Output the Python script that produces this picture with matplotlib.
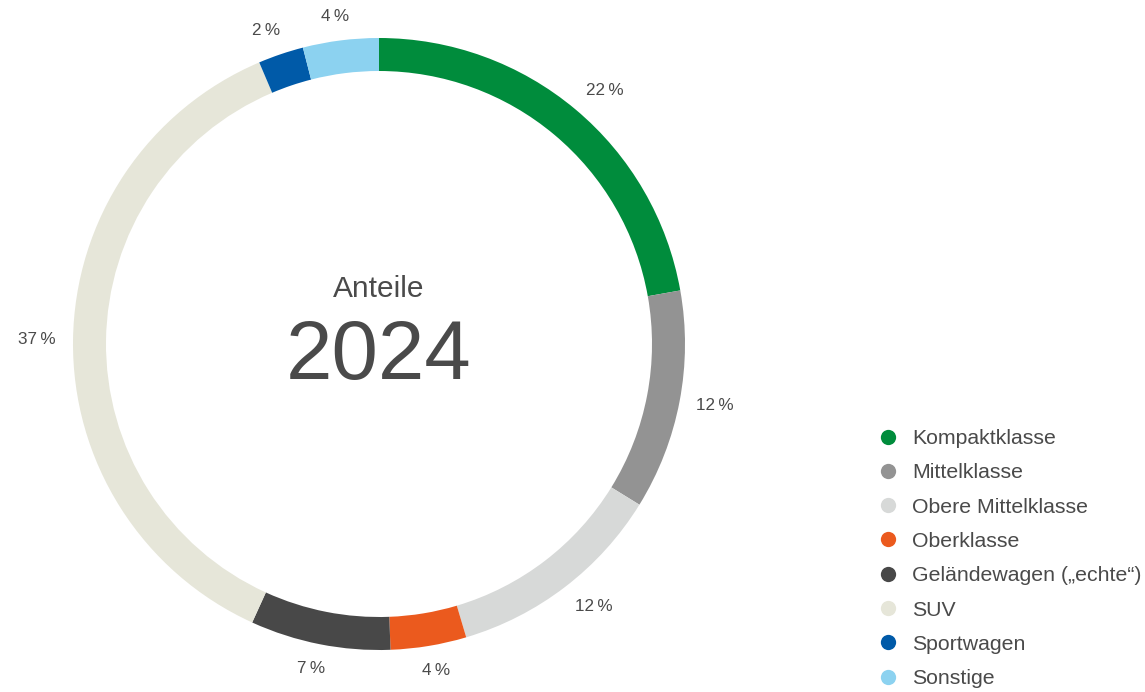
import numpy as np
import matplotlib.pyplot as plt
from matplotlib.lines import Line2D

plt.rcParams['font.family'] = ['Liberation Sans', 'DejaVu Sans']

# Daten
kategorien = ['Kompaktklasse', 'Mittelklasse', 'Obere Mittelklasse', 'Oberklasse',
              'Geländewagen („echte“)', 'SUV', 'Sportwagen', 'Sonstige']
anteile = [22.2, 11.6, 11.6, 4.0, 7.4, 36.8, 2.4, 4.0]
beschriftung = ['22\u2009%', '12\u2009%', '12\u2009%', '4\u2009%', '7\u2009%', '37\u2009%', '2\u2009%', '4\u2009%']
farben = ['#008c3c', '#939393', '#d7d9d8', '#eb5a1e', '#484848', '#e6e6d9', '#005aa8', '#8cd2f0']
textfarbe = '#4a4a4a'

W, H = 1145, 692
fig = plt.figure(figsize=(W / 100, H / 100), dpi=100)
ax = fig.add_axes([0, 0, 1, 1])
ax.set_xlim(0, W)
ax.set_ylim(0, H)
ax.set_aspect('equal')
ax.axis('off')

cx, cy, r = 379, H - 344, 306
ring = 33

wedges, _ = ax.pie(anteile, colors=farben, startangle=90, counterclock=False,
                   center=(cx, cy), radius=r, wedgeprops=dict(width=ring, linewidth=0))
ax.set_xlim(0, W)
ax.set_ylim(0, H)

# Beschriftung ausserhalb des Rings
fig.canvas.draw()
renderer = fig.canvas.get_renderer()
abstand = r + 17
for w, txt in zip(wedges, beschriftung):
    winkel = np.deg2rad((w.theta1 + w.theta2) / 2)
    ux, uy = np.cos(winkel), np.sin(winkel)
    t = ax.text(0, 0, txt, fontsize=12.3, color=textfarbe, ha='center', va='center')
    bb = t.get_window_extent(renderer)
    hw, hh = bb.width / 2, bb.height / 2
    t.set_position((cx + abstand * ux + hw * np.sign(ux) * min(1, 2 * abs(ux)),
                    cy + abstand * uy + hh * uy))

ax.text(cx, H - 289, 'Anteile', ha='center', va='center', fontsize=21.5, color=textfarbe)
ax.text(cx, H - 357, '2024', ha='center', va='center', fontsize=60, color=textfarbe)

handles = [Line2D([], [], marker='o', linestyle='none', markersize=11,
                  markerfacecolor=c, markeredgewidth=0) for c in farben]
fig.legend(handles, kategorien, loc='upper left', bbox_to_anchor=(877 / W, 1 - 429 / H),
           frameon=False, fontsize=15.3, labelcolor=textfarbe, labelspacing=0.72,
           handletextpad=0.65, handlelength=1.0, borderaxespad=0, borderpad=0)

plt.savefig('out.png', dpi=100)
